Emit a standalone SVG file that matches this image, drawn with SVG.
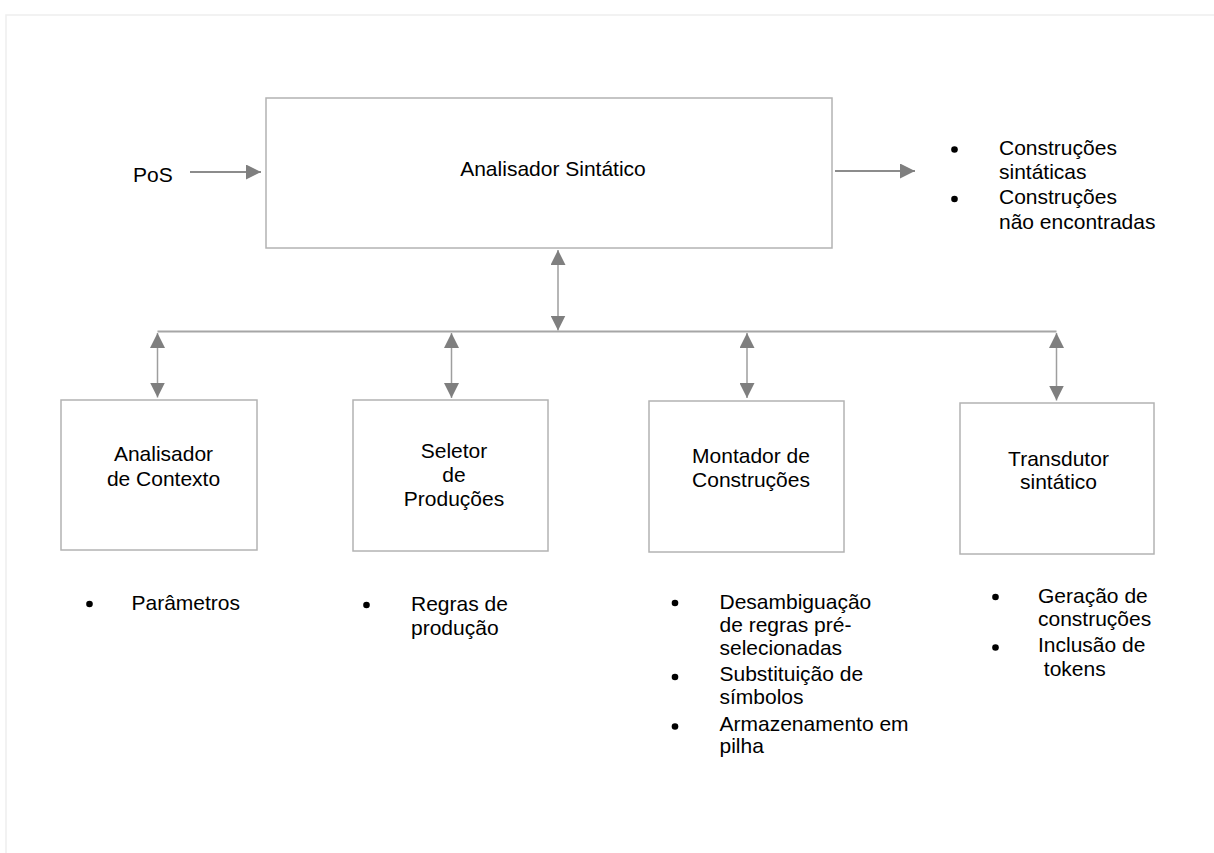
<svg xmlns="http://www.w3.org/2000/svg" width="1214" height="853" viewBox="0 0 1214 853">
  <style>
    .bg { fill: #ffffff; }
    .page { stroke: #eeeeee; stroke-width: 1.5; fill: none; }
    .box { fill: #ffffff; stroke: #b3b3b3; stroke-width: 1.5; }
    .lbl { font-family: "Liberation Sans", Arial, sans-serif; font-size: 21px; fill: #000000; }
    .mid { text-anchor: middle; }
    .wire { stroke: #9e9e9e; stroke-width: 1.5; fill: none; }
    .bus { stroke: #a6a6a6; stroke-width: 2; fill: none; }
    .flow { stroke: #8c8c8c; stroke-width: 2; fill: none; }
    .dot { fill: #000000; }
  </style>
  <defs>
    <marker id="head" viewBox="0 0 15 15" markerUnits="userSpaceOnUse" markerWidth="15" markerHeight="15" refX="15" refY="7.5" orient="auto-start-reverse">
      <path d="M0,0 L15,7.5 L0,15 z" fill="#7f7f7f"/>
    </marker>
  </defs>

  <rect class="bg" x="0" y="0" width="1214" height="853"/>
  <!-- faint page outline -->
  <path class="page" d="M6,853 L6,15 L1214,15"/>

  <g id="analisador-sintatico">
    <rect class="box" x="266" y="98" width="566" height="150"/>
    <text class="lbl mid" x="553" y="176">Analisador Sintático</text>
  </g>

  <g id="entrada-pos">
    <text class="lbl" x="133" y="182">PoS</text>
  </g>

  <g id="saidas">
    <circle class="dot" cx="954.5" cy="149.5" r="3.3"/>
    <text class="lbl" x="999" y="155">Construções</text>
    <text class="lbl" x="999" y="179">sintáticas</text>
    <circle class="dot" cx="954.5" cy="199" r="3.3"/>
    <text class="lbl" x="999" y="204">Construções</text>
    <text class="lbl" x="999" y="229">não encontradas</text>
  </g>

  <g id="analisador-contexto">
    <rect class="box" x="61" y="400" width="196" height="150"/>
    <text class="lbl mid" x="163.5" y="461">Analisador</text>
    <text class="lbl mid" x="163.5" y="486">de Contexto</text>
  </g>

  <g id="seletor-producoes">
    <rect class="box" x="353" y="400" width="195" height="151"/>
    <text class="lbl mid" x="454" y="458">Seletor</text>
    <text class="lbl mid" x="454" y="482">de</text>
    <text class="lbl mid" x="454" y="506">Produções</text>
  </g>

  <g id="montador-construcoes">
    <rect class="box" x="649" y="401" width="195" height="151"/>
    <text class="lbl mid" x="751" y="463">Montador de</text>
    <text class="lbl mid" x="751" y="487">Construções</text>
  </g>

  <g id="transdutor-sintatico">
    <rect class="box" x="960" y="403" width="194" height="151"/>
    <text class="lbl mid" x="1058.5" y="466">Transdutor</text>
    <text class="lbl mid" x="1058.5" y="489">sintático</text>
  </g>

  <g id="lista-contexto">
    <circle class="dot" cx="89.5" cy="604" r="3.3"/>
    <text class="lbl" x="131.5" y="610">Parâmetros</text>
  </g>

  <g id="lista-seletor">
    <circle class="dot" cx="366.5" cy="605" r="3.3"/>
    <text class="lbl" x="411" y="611">Regras de</text>
    <text class="lbl" x="411" y="635">produção</text>
  </g>

  <g id="lista-montador">
    <circle class="dot" cx="675" cy="603" r="3.3"/>
    <text class="lbl" x="719.5" y="609">Desambiguação</text>
    <text class="lbl" x="719.5" y="632">de regras pré-</text>
    <text class="lbl" x="719.5" y="655">selecionadas</text>
    <circle class="dot" cx="675" cy="677" r="3.3"/>
    <text class="lbl" x="719.5" y="681">Substituição de</text>
    <text class="lbl" x="719.5" y="704">símbolos</text>
    <circle class="dot" cx="675" cy="726.5" r="3.3"/>
    <text class="lbl" x="719.5" y="731">Armazenamento em</text>
    <text class="lbl" x="719.5" y="753">pilha</text>
  </g>

  <g id="lista-transdutor">
    <circle class="dot" cx="995.5" cy="597" r="3.3"/>
    <text class="lbl" x="1038" y="603">Geração de</text>
    <text class="lbl" x="1038" y="626">construções</text>
    <circle class="dot" cx="995.5" cy="647.5" r="3.3"/>
    <text class="lbl" x="1038" y="652">Inclusão de</text>
    <text class="lbl" x="1038" y="676" xml:space="preserve"> tokens</text>
  </g>

  <g id="conectores">
    <!-- input and output flows -->
    <line class="flow" x1="190" y1="172" x2="261" y2="172" marker-end="url(#head)"/>
    <line class="flow" x1="835" y1="171" x2="915" y2="171" marker-end="url(#head)"/>
    <!-- trunk between the parser and the bus -->
    <line class="wire" x1="558" y1="250" x2="558" y2="330.5" marker-start="url(#head)" marker-end="url(#head)"/>
    <!-- shared bus -->
    <line class="bus" x1="157.5" y1="331.5" x2="1056.5" y2="331.5"/>
    <!-- branches to the modules -->
    <line class="wire" x1="157.5" y1="333" x2="157.5" y2="397.5" marker-start="url(#head)" marker-end="url(#head)"/>
    <line class="wire" x1="451.5" y1="333" x2="451.5" y2="398" marker-start="url(#head)" marker-end="url(#head)"/>
    <line class="wire" x1="747" y1="333" x2="747" y2="398" marker-start="url(#head)" marker-end="url(#head)"/>
    <line class="wire" x1="1056.5" y1="333" x2="1056.5" y2="400.5" marker-start="url(#head)" marker-end="url(#head)"/>
  </g>
</svg>
